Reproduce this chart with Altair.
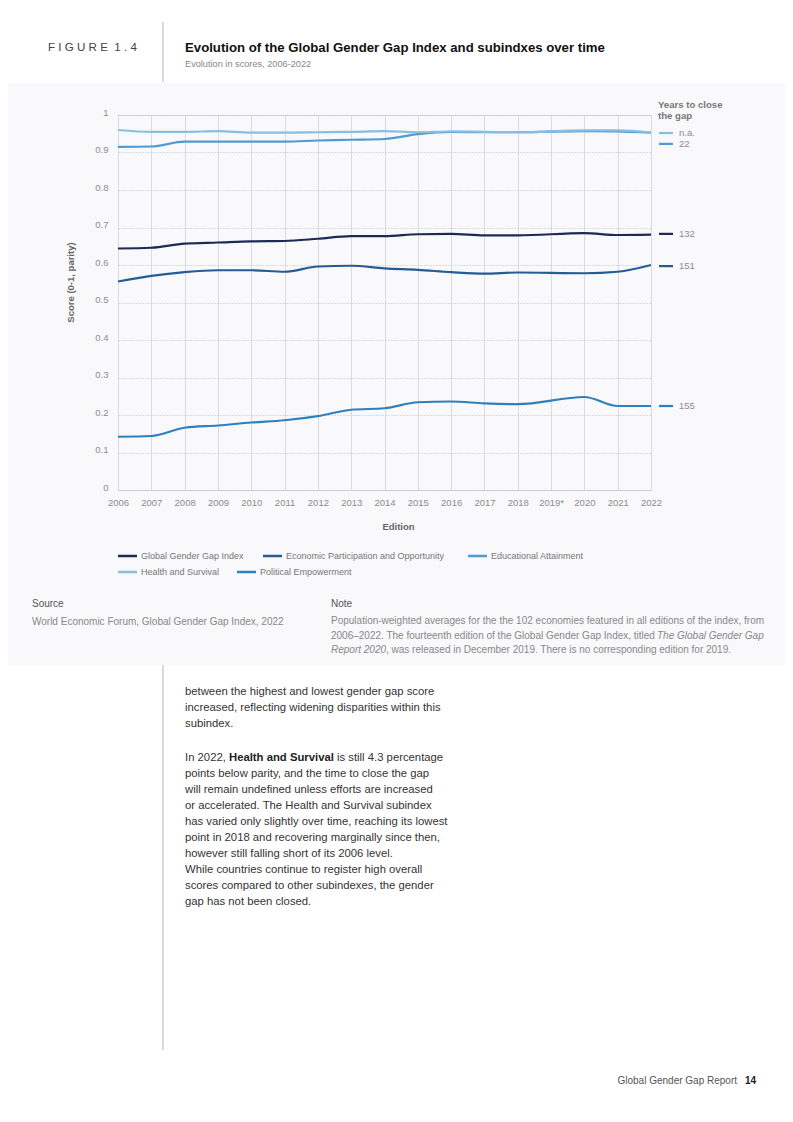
import altair as alt
import pandas as pd

# ---------------- data ----------------
edition_years = [2006, 2007, 2008, 2009, 2010, 2011, 2012, 2013, 2014, 2015,
                 2016, 2017, 2018, 2019, 2020, 2021, 2022]
edition_labels = ["2006", "2007", "2008", "2009", "2010", "2011", "2012", "2013", "2014",
                  "2015", "2016", "2017", "2018", "2019*", "2020", "2021", "2022"]
data_years = [2006, 2007, 2008, 2009, 2010, 2011, 2012, 2013, 2014, 2015,
              2016, 2017, 2018, 2020, 2021, 2022]

series_names = ["Global Gender Gap Index", "Economic Participation and Opportunity",
                "Educational Attainment", "Health and Survival", "Political Empowerment"]
gggi = [0.644, 0.646, 0.657, 0.660, 0.663, 0.664, 0.670, 0.677, 0.677, 0.682,
        0.683, 0.679, 0.679, 0.685, 0.680, 0.681]
economic = [0.556, 0.571, 0.581, 0.586, 0.586, 0.582, 0.596, 0.598, 0.591, 0.587,
            0.581, 0.577, 0.580, 0.578, 0.582, 0.600]
education = [0.915, 0.916, 0.929, 0.929, 0.929, 0.929, 0.932, 0.934, 0.936, 0.949,
             0.955, 0.954, 0.954, 0.957, 0.956, 0.953]
health = [0.960, 0.955, 0.955, 0.957, 0.953, 0.953, 0.954, 0.955, 0.957, 0.954,
          0.956, 0.955, 0.954, 0.959, 0.959, 0.953]
political = [0.142, 0.144, 0.166, 0.172, 0.180, 0.186, 0.197, 0.214, 0.218, 0.234,
             0.236, 0.231, 0.229, 0.248, 0.224, 0.224]

gap_series = ["Health and Survival", "Educational Attainment", "Global Gender Gap Index",
              "Economic Participation and Opportunity", "Political Empowerment"]
gap_labels = ["n.a.", "22", "132", "151", "155"]
gap_label_scores = [0.952, 0.923, 0.683, 0.597, 0.224]

y_ticks = [0, 0.1, 0.2, 0.3, 0.4, 0.5, 0.6, 0.7, 0.8, 0.9, 1]

colors = ["#1d2a55", "#245d96", "#4f9ad0", "#86bfe4", "#2f80be"]

# ---------------- tables ----------------
all_values = [gggi, economic, education, health, political]
rows = []
for name, vals in zip(series_names, all_values):
    for yr, v in zip(data_years, vals):
        rows.append({"series": name, "year": yr, "score": v})
df = pd.DataFrame(rows)
gap_df = pd.DataFrame({"series": gap_series, "label": gap_labels, "score": gap_label_scores})
one = pd.DataFrame({"k": [0]})

FONT = "Liberation Sans"
PANEL = "#f9f8fa"
OX, OY = 118, 115  # page position of plot origin

label_expr = "[" + ",".join("'%s'" % s for s in edition_labels) + "][indexof([" + \
    ",".join(str(y) for y in edition_years) + "], datum.value)]"

color_scale = alt.Scale(domain=series_names, range=colors)
y_scale = alt.Scale(domain=[0, 1], nice=False)
y_axis = alt.Axis(values=y_ticks, format="~g", grid=True, gridDash=[1, 2],
                  gridColor="#bcbcbc", domain=False, ticks=False, labelPadding=10,
                  labelBaseline="alphabetic", labelFontSize=9.5,
                  labelColor="#8c8c8c", labelFont=FONT, labelOverlap=False,
                  title="Score (0-1, parity)", titleFont=FONT, titleFontSize=9.5,
                  titleFontWeight="bold", titleColor="#666666", titleX=-48,
                  titleY=167, titleAngle=270, titleAlign="center",
                  titleBaseline="middle")


def txt(text, px, py, size=9, color="#777777", weight="normal", align="left", style="normal"):
    return alt.Chart(one).mark_text(
        text=text, align=align, baseline="middle", fontSize=size, fontWeight=weight,
        fontStyle=style, color=color, font=FONT
    ).encode(x=alt.value(px - OX), y=alt.value(py - OY))


def vrule(px, py1, py2, color="#b5b5b5"):
    return alt.Chart(one).mark_rule(color=color, strokeWidth=1).encode(
        x=alt.value(px - OX), y=alt.value(py1 - OY), y2=alt.value(py2 - OY))


def hdash(px1, px2, py, color):
    return alt.Chart(one).mark_rule(color=color, strokeWidth=2.5).encode(
        x=alt.value(px1 - OX), x2=alt.value(px2 - OX), y=alt.value(py - OY))


def white_rect(py1, py2):
    return alt.Chart(one).mark_rect(color="white").encode(
        x=alt.value(-OX - 10), x2=alt.value(800), y=alt.value(py1 - OY), y2=alt.value(py2 - OY))


lines = alt.Chart(df).mark_line(interpolate="monotone", strokeWidth=2.2).encode(
    x=alt.X("year:Q", scale=alt.Scale(domain=[2006, 2022], nice=False, zero=False),
            axis=alt.Axis(values=edition_years, labelExpr=label_expr, grid=True,
                          gridColor="#dcdce0", domain=False, ticks=False, labelPadding=7,
                          labelFontSize=9.5, labelColor="#8c8c8c", labelFont=FONT,
                          labelOverlap=False,
                          title="Edition", titleFont=FONT, titleFontSize=9.5,
                          titleFontWeight="bold", titleColor="#666666", titleX=280,
                          titleY=36, titleBaseline="middle", labelFlush=False)),
    y=alt.Y("score:Q", scale=y_scale, axis=y_axis),
    color=alt.Color("series:N", scale=color_scale, legend=None),
)

gap_rules = alt.Chart(gap_df).mark_rule(strokeWidth=2.2).encode(
    x=alt.value(541), x2=alt.value(555), y=alt.Y("score:Q", scale=y_scale, axis=y_axis),
    color=alt.Color("series:N", scale=color_scale, legend=None))
gap_text = alt.Chart(gap_df).mark_text(
    align="left", baseline="middle", fontSize=9.5, color="#8c8c8c", font=FONT
).encode(x=alt.value(561), y=alt.Y("score:Q", scale=y_scale, axis=y_axis), text="label:N")

# manual flow legend (two rows)
legend_layout = [(118, 556), (263, 556), (468, 556), (118, 572), (237, 572)]
legend_layers = []
for name, col, (lx, ly) in zip(series_names, colors, legend_layout):
    legend_layers.append(hdash(lx, lx + 19, ly, col))
    legend_layers.append(txt(name, lx + 23, ly, size=9, color="#777777"))

NBSP = "\u00a0"
fig_label = NBSP.join("FIGURE") + NBSP * 2 + NBSP.join("1.4")

BODY = 11.3
NOTE = 10

layers = [
    white_rect(0, 83), white_rect(665, 1130),
    lines, gap_rules, gap_text,
    txt("Years to close", 658, 105, size=9.6, color="#777777", weight="bold"),
    txt("the gap", 658, 116, size=9.6, color="#777777", weight="bold"),
    # header
    txt(fig_label, 48, 48, size=11.6, color="#444444"),
    vrule(163, 22, 82), vrule(163, 665, 1050),
    txt("Evolution of the Global Gender Gap Index and subindxes over time", 185, 48,
        size=13.2, color="#111111", weight="bold"),
    txt("Evolution in scores, 2006-2022", 185, 64, size=9.2, color="#888888"),
    # source / note
    txt("Source", 32, 604, size=NOTE, color="#555555"),
    txt("World Economic Forum, Global Gender Gap Index, 2022", 32, 622, size=NOTE, color="#888888"),
    txt("Note", 331, 604, size=NOTE, color="#555555"),
    txt("Population-weighted averages for the the 102 economies featured in all editions of the index, from",
        331, 621, size=NOTE, color="#888888"),
    txt("2006\u20132022. The fourteenth edition of the Global Gender Gap Index, titled",
        331, 636, size=NOTE, color="#888888"),
    txt("The Global Gender Gap", 657, 636, size=NOTE, color="#888888", style="italic"),
    txt("Report 2020", 331, 650, size=NOTE, color="#888888", style="italic"),
    txt(", was released in December 2019. There is no corresponding edition for 2019.",
        386, 650, size=NOTE, color="#888888"),
    # body text
    txt("between the highest and lowest gender gap score", 185, 692, size=BODY, color="#333333"),
    txt("increased, reflecting widening disparities within this", 185, 708, size=BODY, color="#333333"),
    txt("subindex.", 185, 724, size=BODY, color="#333333"),
    txt("In 2022,", 185, 758, size=BODY, color="#333333"),
    txt("Health and Survival", 229, 758, size=BODY, color="#222222", weight="bold"),
    txt("is still 4.3 percentage", 337, 758, size=BODY, color="#333333"),
    txt("points below parity, and the time to close the gap", 185, 774, size=BODY, color="#333333"),
    txt("will remain undefined unless efforts are increased", 185, 790, size=BODY, color="#333333"),
    txt("or accelerated. The Health and Survival subindex", 185, 806, size=BODY, color="#333333"),
    txt("has varied only slightly over time, reaching its lowest", 185, 822, size=BODY, color="#333333"),
    txt("point in 2018 and recovering marginally since then,", 185, 838, size=BODY, color="#333333"),
    txt("however still falling short of its 2006 level.", 185, 854, size=BODY, color="#333333"),
    txt("While countries continue to register high overall", 185, 870, size=BODY, color="#333333"),
    txt("scores compared to other subindexes, the gender", 185, 886, size=BODY, color="#333333"),
    txt("gap has not been closed.", 185, 902, size=BODY, color="#333333"),
    # footer
    txt("Global Gender Gap Report", 737, 1081, size=10, color="#555555", align="right"),
    txt("14", 745, 1081, size=10, color="#222222", weight="bold"),
] + legend_layers

chart = alt.layer(*layers).properties(
    width=533, height=375,
    padding={"left": 110, "top": 107, "right": 134, "bottom": 608},
    autosize=alt.AutoSizeParams(type="none"),
    background=PANEL,
).configure_view(stroke="#d8d8dc", strokeWidth=1)

chart.save("out.html", embed_options={"renderer": "svg", "actions": False})
